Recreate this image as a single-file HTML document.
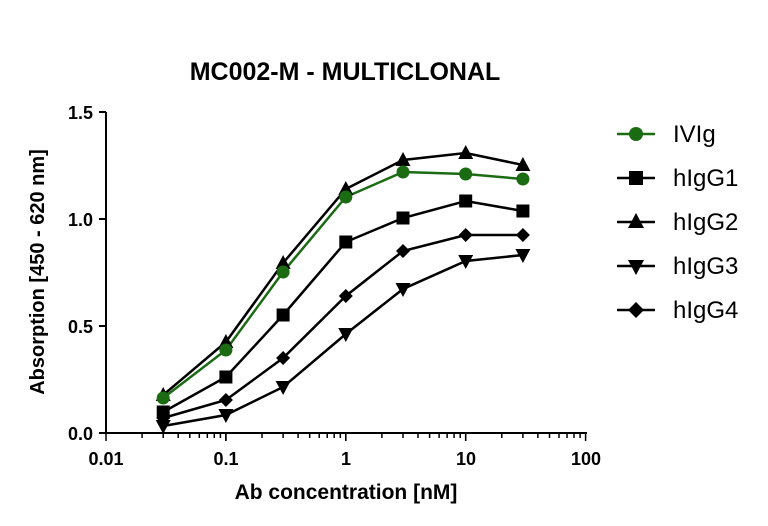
<!DOCTYPE html>
<html><head><style>body{margin:0;background:#fff}svg{display:block}text{font-family:"Liberation Sans",Arial,sans-serif;font-weight:bold}</style></head>
<body>
<svg width="768" height="526" viewBox="0 0 768 526" xmlns="http://www.w3.org/2000/svg">
<text x="345" y="80" font-size="25" text-anchor="middle">MC002-M - MULTICLONAL</text>
<g stroke="#000" stroke-width="2" fill="none">
<line x1="106" y1="112" x2="106" y2="433"/>
<line x1="105" y1="433" x2="587" y2="433"/>
<line x1="99" y1="112" x2="106" y2="112"/>
<line x1="99" y1="219" x2="106" y2="219"/>
<line x1="99" y1="326" x2="106" y2="326"/>
<line x1="99" y1="433" x2="106" y2="433"/>
</g>
<g stroke="#000" stroke-width="1.5" id="xt"></g>
<g font-size="18" text-anchor="end">
<text x="93" y="119">1.5</text><text x="93" y="226">1.0</text><text x="93" y="333">0.5</text><text x="93" y="440">0.0</text>
</g>
<g font-size="18" text-anchor="middle">
<text x="106" y="465">0.01</text><text x="226" y="465">0.1</text><text x="346" y="465">1</text><text x="466" y="465">10</text><text x="586" y="465">100</text>
</g>
<text x="346" y="499" font-size="21" text-anchor="middle">Ab concentration [nM]</text>
<text transform="translate(44,272) rotate(-90)" font-size="20" text-anchor="middle">Absorption [450 - 620 nm]</text>
<g fill="none" stroke-width="2.5" id="lines"></g>
<g id="m"></g>
<g font-size="24">
<text x="673" y="142" style="font-weight:normal">IVIg</text>
<text x="673" y="186" style="font-weight:normal">hIgG1</text>
<text x="673" y="230" style="font-weight:normal">hIgG2</text>
<text x="673" y="274" style="font-weight:normal">hIgG3</text>
<text x="673" y="318" style="font-weight:normal">hIgG4</text>
</g>
<g stroke-width="2.5">
<line x1="617" y1="134" x2="655" y2="134" stroke="#1a6b12"/><circle cx="636" cy="134" r="7" fill="#1a6b12"/>
<line x1="617" y1="178" x2="655" y2="178" stroke="#000"/><rect x="629" y="171" width="14" height="14"/>
<line x1="617" y1="222" x2="655" y2="222" stroke="#000"/><polygon points="636,213 644,228 628,228"/>
<line x1="617" y1="266" x2="655" y2="266" stroke="#000"/><polygon points="628,260 644,260 636,275"/>
<line x1="617" y1="310" x2="655" y2="310" stroke="#000"/><polygon points="636,302 644,310 636,318 628,310"/>
</g>
<script>
var s='http://www.w3.org/2000/svg';
var X0=106,D=119.9;
var xt=document.getElementById('xt');
for(var d=0;d<4;d++)for(var k=1;k<=10;k++){var x=X0+D*(d+Math.log10(k));var l=document.createElementNS(s,'line');l.setAttribute('x1',x);l.setAttribute('x2',x);l.setAttribute('y1',433);l.setAttribute('y2',k==1||k==10?441:438);xt.appendChild(l);}
var xs=[0.03,0.1,0.3,1,3,10,30].map(function(c){return X0+D*(Math.log10(c)+2);});
var m=document.getElementById('m'),L=document.getElementById('lines');
function add(p,t,a){var e=document.createElementNS(s,t);for(var k in a)e.setAttribute(k,a[k]);p.appendChild(e);}
var g1=[412,377,315,242,218,201,211],g2=[395,342,263,189,160,153,165],g3=[426,415,387,334,289,261,255],g4=[418,400,358,296,251,235,235],iv=[398,350,272,197,172,174,179];
function pl(a,c){add(L,'polyline',{stroke:c,points:xs.map(function(x,i){return x+','+a[i];}).join(' ')});}
pl(g1,'#000');pl(g2,'#000');pl(g3,'#000');pl(g4,'#000');pl(iv,'#1a6b12');
xs.forEach(function(x,i){
add(m,'rect',{x:x-6.5,y:g1[i]-6.5,width:13,height:13});
var y=g2[i];add(m,'polygon',{points:x+','+(y-8)+' '+(x+7.5)+','+(y+6)+' '+(x-7.5)+','+(y+6)});
y=g3[i];add(m,'polygon',{points:(x-7.5)+','+(y-6)+' '+(x+7.5)+','+(y-6)+' '+x+','+(y+8)});
y=g4[i];add(m,'polygon',{points:x+','+(y-7)+' '+(x+7)+','+y+' '+x+','+(y+7)+' '+(x-7)+','+y});
add(m,'circle',{cx:x,cy:iv[i],r:6.5,fill:'#1a6b12'});
});
</script>
</svg>
</body></html>
